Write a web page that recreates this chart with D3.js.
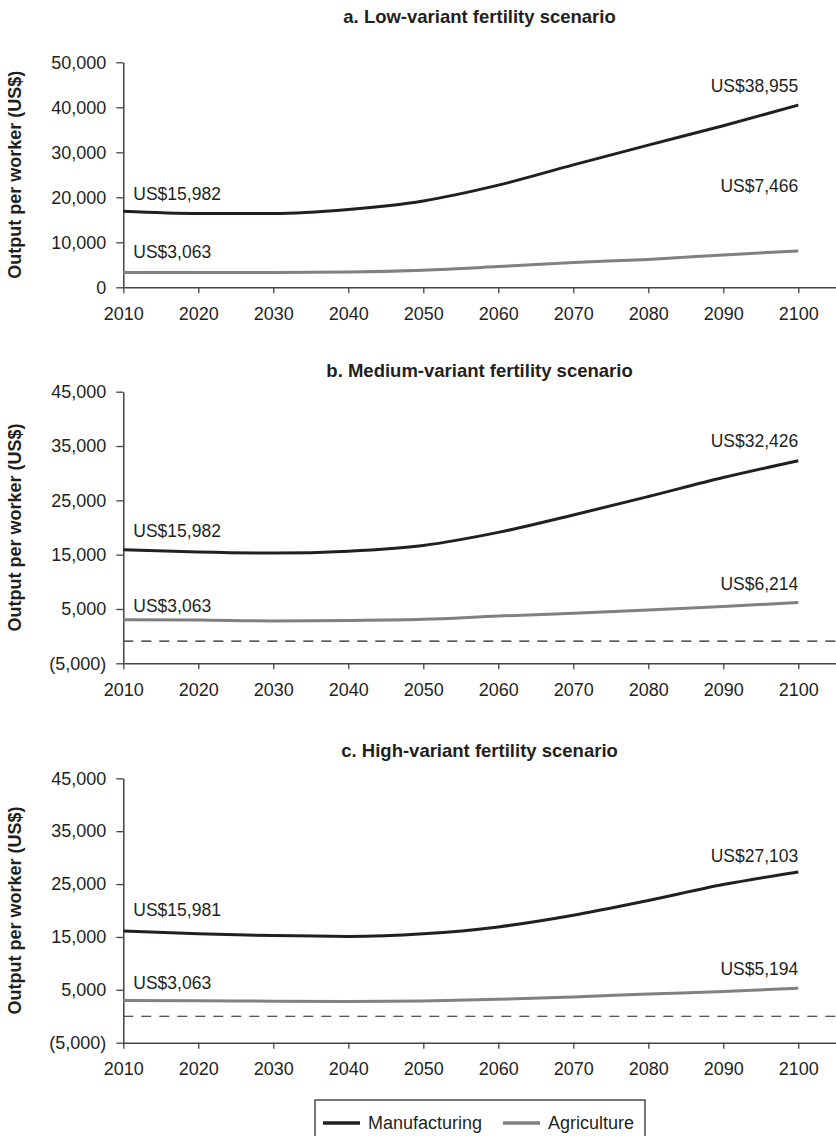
<!DOCTYPE html>
<html>
<head>
<meta charset="utf-8">
<script src="https://cdn.jsdelivr.net/npm/d3@7"></script>
<style>
  body { margin: 0; background: #fff; }
  svg { display: block; font-family: "Liberation Sans", Arial, sans-serif; }
</style>
</head>
<body>
<div id="chart"></div>
<script>
// ===== DATA =====
const years = [2010, 2020, 2030, 2040, 2050, 2060, 2070, 2080, 2090, 2100];
const xTicks = [2010, 2020, 2030, 2040, 2050, 2060, 2070, 2080, 2090, 2100];

const titles = [
  "a. Low-variant fertility scenario",
  "b. Medium-variant fertility scenario",
  "c. High-variant fertility scenario"
];

const manufLow  = [16900, 16400, 16400, 17300, 19200, 22700, 27200, 31600, 35900, 40500];
const agriLow   = [3300, 3300, 3300, 3400, 3800, 4600, 5500, 6200, 7200, 8100];
const manufMed  = [15900, 15500, 15300, 15650, 16700, 19100, 22300, 25700, 29200, 32300];
const agriMed   = [3000, 2950, 2800, 2900, 3100, 3700, 4200, 4800, 5450, 6200];
const manufHigh = [16100, 15600, 15250, 15100, 15600, 16900, 19100, 21900, 24900, 27300];
const agriHigh  = [3000, 2950, 2850, 2800, 2900, 3200, 3650, 4200, 4700, 5300];

const yTicksLow = [0, 10000, 20000, 30000, 40000, 50000];
const yTicksMH  = [-5000, 5000, 15000, 25000, 35000, 45000];

// dashed reference line value per panel (null = none)
const refLines = [null, -900, 0];

// annotation texts: [left manuf, left agri, right manuf, right agri]
const annoLow  = ["US$15,982", "US$3,063", "US$38,955", "US$7,466"];
const annoMed  = ["US$15,982", "US$3,063", "US$32,426", "US$6,214"];
const annoHigh = ["US$15,981", "US$3,063", "US$27,103", "US$5,194"];
// value level (data units) where each annotation baseline sits
const annoAtLow  = [19400, 6500, 43400, 21200];
const annoAtMed  = [18300, 4500, 34900, 8500];
const annoAtHigh = [18900, 5200, 29200, 7750];

const seriesNames = ["Manufacturing", "Agriculture"];

// ===== SIZE =====
const width = 836;
const height = 1136;
const ink = "#231f20";
const colors = { Manufacturing: "#231f20", Agriculture: "#818181" };

const panels = [
  { title: titles[0], manuf: manufLow, agri: agriLow, ticks: yTicksLow, ref: refLines[0],
    anno: annoLow, annoAt: annoAtLow, top: 62.3, bottom: 287.3, titleY: 23 },
  { title: titles[1], manuf: manufMed, agri: agriMed, ticks: yTicksMH, ref: refLines[1],
    anno: annoMed, annoAt: annoAtMed, top: 391.7, bottom: 663.3, titleY: 377 },
  { title: titles[2], manuf: manufHigh, agri: agriHigh, ticks: yTicksMH, ref: refLines[2],
    anno: annoHigh, annoAt: annoAtHigh, top: 778.3, bottom: 1042.7, titleY: 757 }
];

d3.select("#chart").selectAll("*").remove();

const svg = d3.select("#chart")
  .append("svg")
  .attr("width", width)
  .attr("height", height);

// x runs a little past 2100 so the axis line reaches the edge
const x = d3.scaleLinear()
  .domain([2010, 2105])
  .range([123.3, 835.8]);

const plotLeft = x(2010);
const plotCenter = (x(2010) + x(2105)) / 2;

panels.forEach(p => {
  const g = svg.append("g");

  const y = d3.scaleLinear()
    .domain([p.ticks[0], p.ticks[p.ticks.length - 1]])
    .range([p.bottom, p.top]);

  // title
  g.append("text")
    .attr("x", plotCenter)
    .attr("y", p.titleY)
    .attr("text-anchor", "middle")
    .style("font-size", "18.5px")
    .style("font-weight", "bold")
    .style("fill", ink)
    .text(p.title);

  // y label
  g.append("text")
    .attr("transform", "rotate(-90)")
    .attr("x", -(p.top + p.bottom) / 2)
    .attr("y", 21)
    .attr("text-anchor", "middle")
    .style("font-size", "18px")
    .style("font-weight", "bold")
    .style("fill", ink)
    .text("Output per worker (US$)");

  // dashed line
  if (p.ref !== null) {
    g.append("line")
      .attr("x1", plotLeft)
      .attr("x2", x(2105))
      .attr("y1", y(p.ref))
      .attr("y2", y(p.ref))
      .attr("stroke", ink)
      .attr("stroke-width", 1.2)
      .attr("stroke-dasharray", "10,8");
  }

  // axes
  const fmt = v => v < 0 ? `(${d3.format(",")(-v)})` : d3.format(",")(v);

  const yAxis = g.append("g")
    .attr("transform", `translate(${plotLeft},0)`)
    .call(d3.axisLeft(y).tickValues(p.ticks).tickFormat(fmt).tickSize(7).tickSizeOuter(0).tickPadding(10));

  const xAxis = g.append("g")
    .attr("transform", `translate(0,${p.bottom})`)
    .call(d3.axisBottom(x).tickValues(xTicks).tickFormat(d3.format("d")).tickSize(6).tickSizeOuter(0).tickPadding(14));

  [yAxis, xAxis].forEach(a => {
    a.select(".domain").attr("stroke", "#444").attr("stroke-width", 1.5);
    a.selectAll(".tick line").attr("stroke", "#444").attr("stroke-width", 1.3);
    a.selectAll(".tick text")
      .style("font-size", "18px")
      .style("font-family", "'Liberation Sans', Arial, sans-serif")
      .attr("fill", ink);
  });

  // lines
  const line = d3.line()
    .x((d, i) => x(years[i]))
    .y(d => y(d))
    .curve(d3.curveMonotoneX);

  g.append("path")
    .datum(p.agri)
    .attr("fill", "none")
    .attr("stroke", colors.Agriculture)
    .attr("stroke-width", 3)
    .attr("d", line);

  g.append("path")
    .datum(p.manuf)
    .attr("fill", "none")
    .attr("stroke", colors.Manufacturing)
    .attr("stroke-width", 3)
    .attr("d", line);

  // annotations
  p.anno.forEach((t, i) => {
    const left = i < 2;
    g.append("text")
      .attr("x", left ? x(2010) + 10 : x(2100))
      .attr("y", y(p.annoAt[i]))
      .attr("text-anchor", left ? "start" : "end")
      .style("font-size", "17.5px")
      .style("fill", ink)
      .text(t);
  });
});

// ===== LEGEND =====
const legend = svg.append("g");

legend.append("rect")
  .attr("x", 315)
  .attr("y", 1100)
  .attr("width", 330)
  .attr("height", 50)
  .attr("fill", "#fff")
  .attr("stroke", ink)
  .attr("stroke-width", 1.2);

const legendX = [323, 503];
seriesNames.forEach((name, i) => {
  legend.append("line")
    .attr("x1", legendX[i])
    .attr("x2", legendX[i] + 37)
    .attr("y1", 1123)
    .attr("y2", 1123)
    .attr("stroke", colors[name])
    .attr("stroke-width", 3.5);

  legend.append("text")
    .attr("x", legendX[i] + 45)
    .attr("y", 1129)
    .style("font-size", "18px")
    .style("fill", ink)
    .text(name);
});
</script>
</body>
</html>
